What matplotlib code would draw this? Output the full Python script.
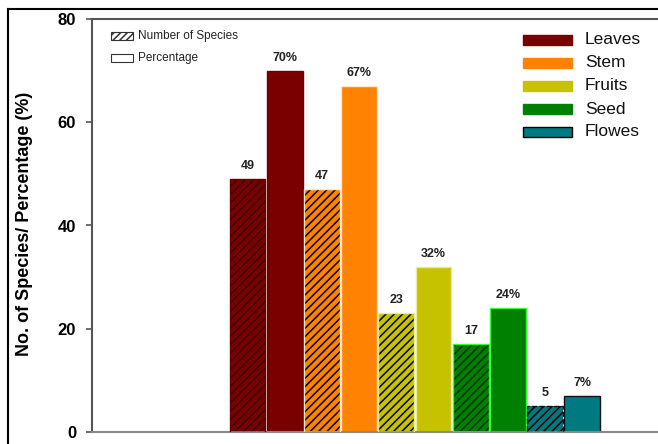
import matplotlib
matplotlib.use("Agg")
import matplotlib.pyplot as plt
from matplotlib.patches import Rectangle
from matplotlib.lines import Line2D

# Plant parts and their values
parts = ["Leaves", "Stem", "Fruits", "Seed", "Flowes"]
species_counts = [49, 47, 23, 17, 5]
percentages = [70, 67, 32, 24, 7]

face_colors = ["#7A0000", "#FF8300", "#C6C200", "#008000", "#007A80"]
edge_colors = ["#6A0000", "#FFE8C8", "#E8E8A0", "#33FF33", "#111111"]
hatch_colors = ["#3A0000", "black", "black", "#003000", "black"]

y_ticks = [0, 20, 40, 60, 80]

W, H = 658, 444
plt.rcParams["font.family"] = ["Liberation Sans", "DejaVu Sans"]
plt.rcParams["hatch.linewidth"] = 1.1
fig = plt.figure(figsize=(W / 100, H / 100), dpi=100)

ax_left, ax_right = 92, 658
ax_top, ax_bottom = 19, 432
ax = fig.add_axes([ax_left / W, (H - ax_bottom) / H,
                   (ax_right - ax_left) / W, (ax_bottom - ax_top) / H])

pitch = 37.2
ax.set_xlim(0, (ax_right - ax_left) / pitch)
ax.set_ylim(0, 80)

first_center = (247.5 - ax_left) / pitch
bar_w = 0.96
for k in range(len(parts)):
    xh = first_center + 2 * k
    xp = xh + 1
    # hatched bar: number of species
    ax.bar(xh, species_counts[k], width=bar_w, color=face_colors[k],
           hatch="////", edgecolor=hatch_colors[k], linewidth=0, zorder=2)
    ls = "--" if parts[k] == "Flowes" else "-"
    ax.bar(xh, species_counts[k], width=bar_w, fill=False,
           edgecolor=edge_colors[k], linewidth=1.0, linestyle=ls, zorder=3)
    ax.annotate(f"{species_counts[k]}", (xh, species_counts[k]),
                xytext=(0, 5), textcoords="offset points", ha="center",
                va="bottom", fontsize=9, fontweight="bold", color="#222222")
    # plain bar: percentage
    ax.bar(xp, percentages[k], width=bar_w, color=face_colors[k],
           edgecolor=edge_colors[k], linewidth=1.0, zorder=2)
    ax.annotate(f"{percentages[k]}%", (xp, percentages[k]),
                xytext=(0, 5), textcoords="offset points", ha="center",
                va="bottom", fontsize=9, fontweight="bold", color="#222222")

ax.set_yticks(y_ticks)
ax.set_yticklabels([str(v) for v in y_ticks], fontsize=12, fontweight="bold")
ax.set_xticks([])
ax.tick_params(axis="y", direction="out", length=4.5, width=1.2,
               color="#555555", pad=7)
ax.spines["right"].set_visible(False)
for side in ["left", "top"]:
    ax.spines[side].set_color("#555555")
    ax.spines[side].set_linewidth(1.5)
ax.spines["bottom"].set_color("#888888")
ax.spines["bottom"].set_linewidth(1.5)

fig.text(25 / W, (H - 224) / H, "No. of Species/ Percentage (%)",
         rotation=90, ha="center", va="center", fontsize=13,
         fontweight="bold")

# pattern key (top-left)
def fx(px):
    return (px - ax_left) / (ax_right - ax_left)

def fy(py):
    return (ax_bottom - py) / (ax_bottom - ax_top)

key_rows = [("Number of Species", "/////"), ("Percentage", None)]
for i, (label, hatch) in enumerate(key_rows):
    yc = 36 + 22 * i
    ax.add_patch(Rectangle((fx(111), fy(yc + 4)), fx(133) - fx(111),
                           fy(yc - 4) - fy(yc + 4), transform=ax.transAxes,
                           facecolor="white", edgecolor="#333333",
                           hatch=hatch, linewidth=0.8, clip_on=False))
    ax.text(fx(138), fy(yc), label, transform=ax.transAxes, ha="left",
            va="center", fontsize=8.5, color="#222222")

# colour key (top-right)
for i, part in enumerate(parts):
    yc = 40 + 23 * i
    ax.add_patch(Rectangle((fx(523), fy(yc + 5)), fx(572) - fx(523),
                           fy(yc - 5) - fy(yc + 5), transform=ax.transAxes,
                           facecolor=face_colors[i],
                           edgecolor="black" if part == "Flowes" else face_colors[i],
                           linewidth=1.0, clip_on=False))
    ax.text(fx(585), fy(yc), part, transform=ax.transAxes, ha="left",
            va="center", fontsize=12.5, color="#111111")

# outer frame
fig.add_artist(Line2D([8 / W, 1.0], [(H - 9) / H, (H - 9) / H],
                      transform=fig.transFigure, color="black", linewidth=1.5))
fig.add_artist(Line2D([8 / W, 8 / W], [0, (H - 9) / H],
                      transform=fig.transFigure, color="black", linewidth=1.5))

fig.savefig("out.png", dpi=100)
